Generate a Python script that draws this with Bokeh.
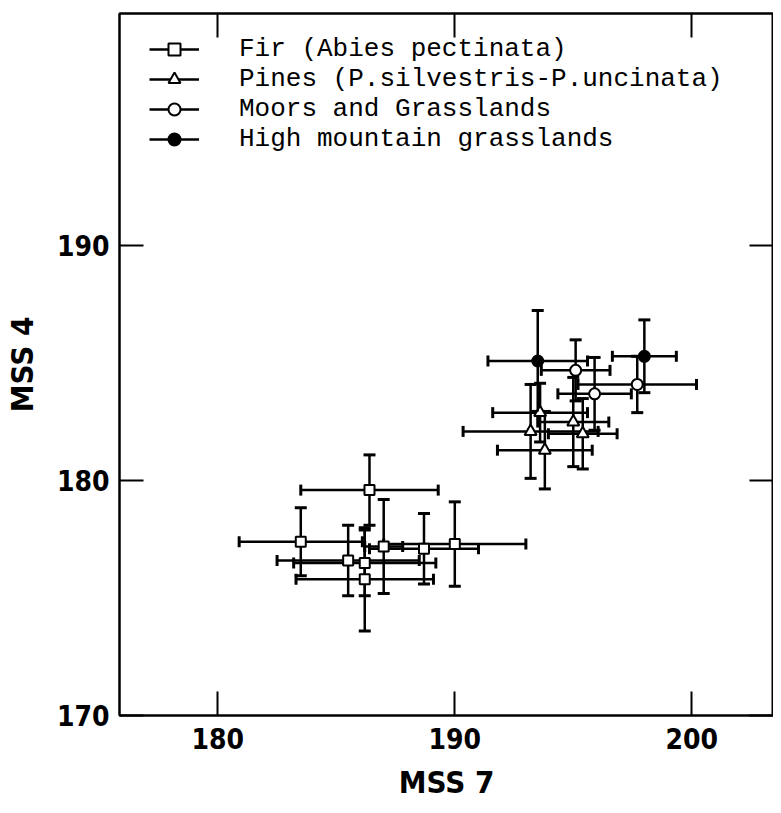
from bokeh.plotting import figure
from bokeh.models import (ColumnDataSource, Range1d, LinearAxis, FixedTicker,
                          Whisker, TeeHead, Legend, LegendItem)
from bokeh.embed import file_html
from bokeh.resources import INLINE

# ---- data ----
fir_x = [186.4, 183.5, 185.5, 186.2, 186.2, 187.0, 188.7, 190.0]
fir_y = [179.6, 177.4, 176.6, 176.5, 175.8, 177.2, 177.1, 177.3]
fir_xerr = [2.9, 2.6, 3.0, 3.0, 2.9, 0.8, 2.3, 3.0]
fir_yerr = [1.5, 1.45, 1.5, 1.4, 2.2, 2.0, 1.5, 1.8]

pine_x = [193.6, 195.0, 193.2, 195.4, 193.8]
pine_y = [182.9, 182.5, 182.1, 182.0, 181.3]
pine_xerr = [2.0, 1.5, 2.85, 1.45, 2.0]
pine_yerr = [1.25, 1.9, 2.0, 1.5, 1.65]

moor_x = [195.1, 197.7, 195.9]
moor_y = [184.7, 184.1, 183.7]
moor_xerr = [1.45, 2.5, 1.55]
moor_yerr = [1.3, 1.2, 1.55]

high_x = [193.5, 198.0]
high_y = [185.1, 185.3]
high_xerr = [2.1, 1.35]
high_yerr = [2.15, 1.55]

series_labels = ["Fir (Abies pectinata)",
                 "Pines (P.silvestris-P.uncinata)",
                 "Moors and Grasslands",
                 "High mountain grasslands"]

x_ticks = [180, 190, 200]
y_ticks = [170, 180, 190]

TICK_FONT = "DejaVu Sans Condensed, Roboto Condensed, DejaVu Sans, sans-serif"

p = figure(width=773, height=805,
           x_range=Range1d(175.85, 203.45), y_range=Range1d(170, 199.9),
           output_backend="svg", toolbar_location=None,
           min_border_left=117, min_border_right=0,
           min_border_top=13, min_border_bottom=90)
p.grid.visible = False
p.outline_line_color = "black"
p.outline_line_width = 2
p.background_fill_color = "white"
p.border_fill_color = "white"

for ax, ticks in ((p.xaxis[0], x_ticks), (p.yaxis[0], y_ticks)):
    ax.ticker = FixedTicker(ticks=ticks, minor_ticks=[])
    ax.major_tick_in = 24
    ax.major_tick_out = 0
    ax.major_tick_line_width = 2
    ax.axis_line_width = 2
    ax.major_label_text_font = TICK_FONT
    ax.major_label_text_font_size = "28px"
    ax.major_label_text_font_style = "bold"
    ax.major_label_text_color = "black"
    ax.axis_label_text_font = TICK_FONT
    ax.axis_label_text_font_size = "31px"
    ax.axis_label_text_font_style = "bold"
    ax.axis_label_text_color = "black"

p.xaxis.axis_label = "MSS 7"
p.yaxis.axis_label = "MSS 4"
p.xaxis.major_label_standoff = 12
p.yaxis.major_label_standoff = 10
p.xaxis.axis_label_standoff = 12
p.yaxis.axis_label_standoff = 14

for side, ticks in (("right", y_ticks), ("above", x_ticks)):
    ax = LinearAxis(ticker=FixedTicker(ticks=ticks, minor_ticks=[]),
                    major_tick_in=24, major_tick_out=0, major_tick_line_width=2,
                    axis_line_width=2, major_label_text_font_size="1px",
                    major_label_text_color=None, major_label_standoff=0)
    p.add_layout(ax, side)

def draw_series(xs, ys, xe, ye, marker, size, fill):
    src = ColumnDataSource(dict(
        x=xs, y=ys,
        xl=[a - e for a, e in zip(xs, xe)], xu=[a + e for a, e in zip(xs, xe)],
        yl=[a - e for a, e in zip(ys, ye)], yu=[a + e for a, e in zip(ys, ye)]))
    hseg = p.segment(x0="xl", y0="y", x1="xu", y1="y", source=src,
                     line_color="black", line_width=2.5)
    p.segment(x0="x", y0="yl", x1="x", y1="yu", source=src,
              line_color="black", line_width=2.5)
    p.add_layout(Whisker(source=src, base="y", lower="xl", upper="xu",
                         dimension="width", line_alpha=0,
                         lower_head=TeeHead(size=11, line_width=3),
                         upper_head=TeeHead(size=11, line_width=3)))
    p.add_layout(Whisker(source=src, base="x", lower="yl", upper="yu",
                         dimension="height", line_alpha=0,
                         lower_head=TeeHead(size=12, line_width=3),
                         upper_head=TeeHead(size=12, line_width=3)))
    sc = p.scatter(x="x", y="y", source=src, marker=marker, size=size,
                   fill_color=fill, line_color="black", line_width=2)
    return hseg, sc

r_fir = draw_series(fir_x, fir_y, fir_xerr, fir_yerr, "square", 10, "white")
r_pine = draw_series(pine_x, pine_y, pine_xerr, pine_yerr, "triangle", 12, "white")
r_moor = draw_series(moor_x, moor_y, moor_xerr, moor_yerr, "circle", 11, "white")
r_high = draw_series(high_x, high_y, high_xerr, high_yerr, "circle", 11, "black")

items = [LegendItem(label=lab, renderers=list(r))
         for lab, r in zip(series_labels, [r_fir, r_pine, r_moor, r_high])]
legend = Legend(items=items, location=(30, 561), padding=0, margin=0,
                border_line_color=None, background_fill_alpha=0,
                glyph_width=50, glyph_height=30, label_height=30,
                label_standoff=40, spacing=0,
                label_text_font="Liberation Mono", label_text_font_size="26px",
                label_text_color="black")
p.add_layout(legend)

open("out.html", "w").write(file_html(p, INLINE))
